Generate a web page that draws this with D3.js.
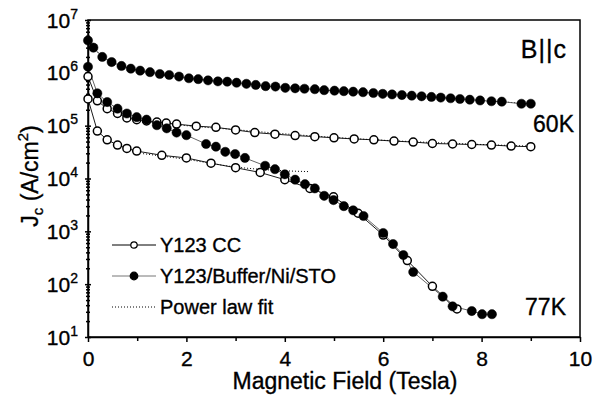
<!DOCTYPE html>
<html>
<head>
<meta charset="utf-8">
<script src="https://cdn.jsdelivr.net/npm/d3@7"></script>
<style>
  body { margin: 0; background: #fff; }
  text { font-family: Arial, "Liberation Sans", sans-serif; fill: #000; stroke: #000; stroke-width: 0.35px; }
</style>
</head>
<body>
<div id="graph"></div>
<script>
// Jc vs magnetic field, B||c, 60K and 77K

// 60K, Y123/Buffer/Ni/STO (filled)
let b60Buffer = [0, 0.11, 0.29, 0.48, 0.68, 0.87, 1.06, 1.26, 1.46, 1.65, 1.85, 2.05, 2.24, 2.44, 2.64, 2.83, 3.02, 3.22, 3.41, 3.61,
  3.81, 4.01, 4.21, 4.40, 4.61, 4.80, 5.01, 5.20, 5.39, 5.59, 5.80, 5.99, 6.18, 6.38, 6.58, 6.78, 6.98, 7.17, 7.37, 7.56,
  7.76, 7.97, 8.20, 8.41, 8.81, 9.0];
let jc60Buffer = [4.1e6, 3.0e6, 2.0e6, 1.6e6, 1.35e6, 1.2e6, 1.1e6, 1.03e6, 9.5e5, 9.1e5, 8.5e5, 7.9e5, 7.6e5, 7.2e5, 6.9e5, 6.8e5, 6.5e5, 6.2e5, 5.9e5, 5.6e5,
  5.5e5, 5.2e5, 5.1e5, 5.0e5, 4.9e5, 4.7e5, 4.6e5, 4.5e5, 4.4e5, 4.3e5, 4.15e5, 4.0e5, 3.9e5, 3.8e5, 3.7e5, 3.6e5, 3.5e5, 3.4e5, 3.3e5, 3.2e5,
  3.1e5, 3.0e5, 2.9e5, 2.85e5, 2.6e5, 2.6e5];

// 60K, Y123 CC (open)
let b60CC = [0, 0.19, 0.39, 0.6, 0.79, 0.99, 1.19, 1.40, 1.59, 1.80, 2.2, 2.6, 3.0, 3.39, 3.8, 4.21, 4.61, 5.0, 5.41, 5.81, 6.22, 6.61, 7.0, 7.41, 7.80, 8.20, 8.6, 9.0];
let jc60CC = [8.5e5, 2.95e5, 2.1e5, 1.7e5, 1.4e5, 1.3e5, 1.23e5, 1.17e5, 1.12e5, 1.07e5, 9.8e4, 9.3e4, 8.3e4, 7.4e4, 6.9e4, 6.5e4, 6.2e4, 5.9e4, 5.6e4, 5.4e4, 5.1e4, 4.9e4, 4.6e4, 4.5e4, 4.4e4, 4.3e4, 4.1e4, 4.0e4];

// 77K, Y123/Buffer/Ni/STO (filled)
let b77Buffer = [0, 0.19, 0.39, 0.6, 0.79, 0.99, 1.19, 1.40, 1.6, 1.80, 2.0, 2.4, 2.6, 2.79, 2.99, 3.19, 3.6, 3.8, 4.0, 4.21,
  4.41, 4.61, 4.8, 4.99, 5.2, 5.39, 5.6, 6.0, 6.2, 6.41, 6.61, 7.21, 7.41, 7.80, 8.01, 8.21];
let jc77Buffer = [1.3e6, 4.1e5, 2.8e5, 2.1e5, 1.7e5, 1.45e5, 1.3e5, 1.02e5, 8.9e4, 7.4e4, 6.6e4, 4.5e4, 4.0e4, 3.2e4, 2.9e4, 2.45e4, 1.74e4, 1.5e4, 1.2e4, 9.5e3,
  7.8e3, 6.5e3, 4.7e3, 3.9e3, 3.0e3, 2.5e3, 1.95e3, 930, 575, 355, 170, 58, 38, 31, 27, 27];

// 77K, Y123 CC (open)
let b77CC = [0, 0.19, 0.39, 0.6, 0.79, 0.99, 1.5, 2.0, 2.5, 3.0, 3.5, 4.0, 4.51, 4.99, 5.49, 6.0, 6.49, 7.0, 7.5];
let jc77CC = [3.2e5, 7.9e4, 5.4e4, 4.3e4, 3.7e4, 3.3e4, 2.75e4, 2.45e4, 1.95e4, 1.6e4, 1.3e4, 9.5e3, 6.5e3, 4.5e3, 2.2e3, 850, 280, 91, 34];

// power law fits (dotted)
let bFit60Buffer = [0.11, 0.3, 1, 2, 3, 4, 5, 6, 7, 8, 9];
let jcFit60Buffer = [3.0e6, 2.0e6, 1.12e6, 8.0e5, 6.5e5, 5.3e5, 4.6e5, 4.0e5, 3.5e5, 3.0e5, 2.6e5];
let bFit60CC = [1.4, 2, 3, 4, 5, 6, 7, 8, 9];
let jcFit60CC = [1.15e5, 1.0e5, 8.4e4, 7.0e4, 6.0e4, 5.3e4, 4.8e4, 4.4e4, 4.1e4];
let bFit77CC = [1.12, 2.0, 3.0, 4.0, 4.51];
let jcFit77CC = [2.95e4, 2.3e4, 1.65e4, 1.4e4, 1.35e4];

// axes
let xTicks = [0, 2, 4, 6, 8, 10];
let xMinorTicks = [1, 3, 5, 7, 9];
let yTicks = [1e1, 1e2, 1e3, 1e4, 1e5, 1e6, 1e7];

let legendLabels = ["Y123 CC", "Y123/Buffer/Ni/STO", "Power law fit"];

let svgWidth = 608;
let svgHeight = 401;
let margin = { top: 20, right: 28, bottom: 64, left: 88 };
let width = svgWidth - margin.left - margin.right;
let height = svgHeight - margin.top - margin.bottom;

let svg = d3.select("#graph")
  .append("svg")
  .attr("width", svgWidth)
  .attr("height", svgHeight);

let chartGroup = svg.append("g")
  .attr("transform", `translate(${margin.left}, ${margin.top})`);

let xScale = d3.scaleLinear().domain([0, 10]).range([0, width]);
let yScale = d3.scaleLog().domain([10, 1e7]).range([height, 0]);

let zip = (bs, js) => bs.map((b, i) => ({ b: b, j: js[i] }));

// minor log ticks 2..9 per decade
let yMinorTicks = [];
yTicks.slice(0, -1).forEach(d => {
  for (let k = 2; k <= 9; k++) yMinorTicks.push(d * k);
});

// bottom axis
let xAxisG = chartGroup.append("g")
  .attr("transform", `translate(0, ${height})`)
  .call(d3.axisBottom(xScale).tickValues(xTicks).tickSizeInner(5).tickSizeOuter(0).tickFormat(d3.format("d")));
xAxisG.selectAll(".tick text")
  .attr("y", 29).attr("dy", null)
  .attr("font-size", 21);
chartGroup.append("g")
  .attr("transform", `translate(0, ${height})`)
  .call(d3.axisBottom(xScale).tickValues(xMinorTicks).tickSizeInner(4).tickSizeOuter(0).tickFormat(""))
  .select(".domain").remove();

// left axis with 10^n labels
let yAxisG = chartGroup.append("g")
  .call(d3.axisLeft(yScale).tickValues(yTicks).tickSizeInner(6).tickSizeOuter(0).tickFormat(""));
yAxisG.selectAll(".tick line").attr("x1", 3).attr("x2", -3);
yAxisG.selectAll(".tick text")
  .attr("x", -10).attr("y", 7).attr("dy", null)
  .attr("font-size", 21)
  .call(t => {
    t.append("tspan").text("10");
    t.append("tspan").attr("dy", -9).attr("font-size", 14).text(d => Math.round(Math.log10(d)));
  });
let yMinorG = chartGroup.append("g")
  .call(d3.axisLeft(yScale).tickValues(yMinorTicks).tickSizeInner(4).tickSizeOuter(0).tickFormat(""));
yMinorG.select(".domain").remove();
yMinorG.selectAll(".tick line").attr("x1", 2).attr("x2", -2);

chartGroup.selectAll(".domain, .tick line").attr("stroke", "#000").attr("stroke-width", 1.5);

// frame
chartGroup.append("rect")
  .attr("width", width)
  .attr("height", height)
  .attr("fill", "none")
  .attr("stroke", "#000")
  .attr("stroke-width", 1.5);

let line = d3.line()
  .x(d => xScale(d.b))
  .y(d => yScale(d.j));

// fits
[[bFit60Buffer, jcFit60Buffer], [bFit60CC, jcFit60CC], [bFit77CC, jcFit77CC]].forEach(f => {
  chartGroup.append("path")
    .attr("d", line.curve(d3.curveMonotoneX)(zip(f[0], f[1])))
    .attr("fill", "none")
    .attr("stroke", "#000")
    .attr("stroke-width", 1)
    .attr("stroke-dasharray", "1,2");
});
line.curve(d3.curveLinear);

let series = [
  { data: zip(b60CC, jc60CC), filled: false },
  { data: zip(b77CC, jc77CC), filled: false },
  { data: zip(b60Buffer, jc60Buffer), filled: true },
  { data: zip(b77Buffer, jc77Buffer), filled: true }
];

series.forEach(s => {
  chartGroup.append("path")
    .attr("d", line(s.data))
    .attr("fill", "none")
    .attr("stroke", s.filled ? "#555" : "#000")
    .attr("stroke-width", 0.9);
});

series.forEach(s => {
  chartGroup.append("g").selectAll("circle")
    .data(s.data)
    .enter()
    .append("circle")
    .attr("cx", d => xScale(d.b))
    .attr("cy", d => yScale(d.j))
    .attr("r", s.filled ? 4.6 : 4)
    .attr("fill", s.filled ? "#000" : "#fff")
    .attr("stroke", "#000")
    .attr("stroke-width", s.filled ? 0.5 : 1.5);
});

// legend
let legend = svg.append("g");
legendLabels.forEach((lab, i) => {
  let ly = 245 + i * 31;
  let row = legend.append("g").attr("transform", `translate(112, ${ly})`);
  row.append("line")
    .attr("x1", 0).attr("x2", 44)
    .attr("stroke", i == 1 ? "#777" : "#000")
    .attr("stroke-width", 1)
    .attr("stroke-dasharray", i == 2 ? "1,2" : null);
  if (i < 2) {
    row.append("circle")
      .attr("cx", 22).attr("r", i == 1 ? 3.8 : 3.2)
      .attr("fill", i == 1 ? "#000" : "#fff")
      .attr("stroke", "#000")
      .attr("stroke-width", 1.2);
  }
  row.append("text")
    .attr("x", 48).attr("y", 7)
    .attr("font-size", 20)
    .text(lab);
});

// annotations
svg.append("text").attr("x", 567).attr("y", 58).attr("text-anchor", "end").attr("font-size", 25).attr("letter-spacing", 1).text("B||c");
svg.append("text").attr("x", 574).attr("y", 132).attr("text-anchor", "end").attr("font-size", 23).text("60K");
svg.append("text").attr("x", 566).attr("y", 315).attr("text-anchor", "end").attr("font-size", 23).text("77K");

// axis titles
svg.append("text")
  .attr("x", 345).attr("y", 389)
  .attr("text-anchor", "middle")
  .attr("font-size", 23)
  .text("Magnetic Field (Tesla)");

let yTitle = svg.append("text")
  .attr("transform", "translate(38, 176) rotate(-90)")
  .attr("text-anchor", "middle")
  .attr("font-size", 23);
yTitle.append("tspan").text("J");
yTitle.append("tspan").attr("font-size", 15).attr("dy", 5).text("c");
yTitle.append("tspan").attr("dy", -5).text(" (A/cm");
yTitle.append("tspan").attr("font-size", 15).attr("dy", -10).text("2");
yTitle.append("tspan").attr("dy", 10).text(")");
</script>
</body>
</html>
